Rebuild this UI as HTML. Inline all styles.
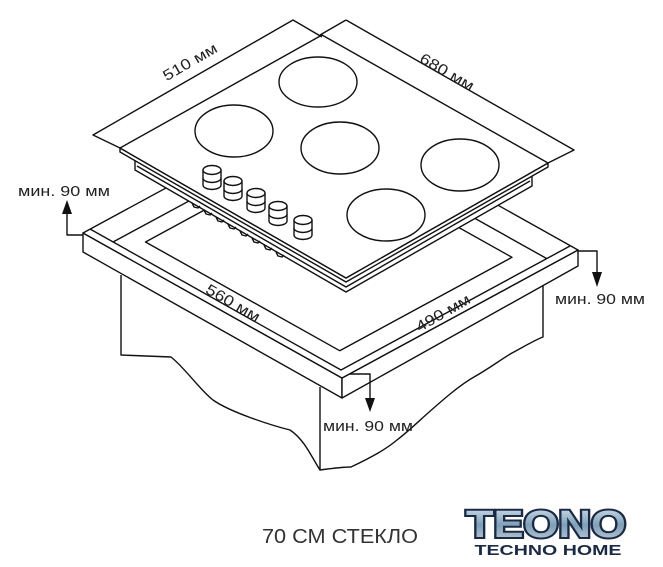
<!DOCTYPE html>
<html><head><meta charset="utf-8"><style>
html,body{margin:0;padding:0;background:#fff;width:663px;height:567px;overflow:hidden}
svg{display:block}
text{font-family:"Liberation Sans",Arial,sans-serif;fill:#222}
</style></head><body>
<svg width="663" height="567" viewBox="0 0 663 567" xmlns="http://www.w3.org/2000/svg">
<g fill="none" stroke="#111" stroke-width="1.4" stroke-linejoin="round">
<!-- cabinet -->
<path d="M121,275 L121,355 L171,357 C185,368 200,390 213,400 C230,412 270,425 290,430 C305,440 312,458 320,470 C335,468 345,467 351,467 C370,458 385,450 397,440 C410,430 420,420 428,413 C445,398 460,385 474,377 C490,368 500,360 512,353 C525,346 535,340 543,337 L543,285"/>
<path d="M320,387 L320,470"/>
<!-- frame -->
<polygon points="83,233 342,378 342,398 83,252" fill="#fff"/>
<polygon points="342,378 578,250 578,266 342,398" fill="#fff"/>
<polygon points="83,233 319,105 578,250 342,378" fill="#fff"/>
<polygon points="145.5,242 339.7,350.7 512,257.3 317.8,148.5"/>
<path d="M90,229 L341,370 L570,246"/>
<path d="M113,242 L302,140"/>
<path d="M334,139.5 L546.6,258.5"/>
<!-- hob -->
<polygon points="135,158 135,170 346,292 532,186 532,172 346,280" fill="#fff"/>
<polygon points="120,148 120,152 346,282 548,167 548,163 346,278" fill="#fff"/>
<polygon points="120,148 322,35 548,163 346,278" fill="#fff"/>
<path d="M137,166 L346,287 L530,181"/>
<path d="M192,203 l2,4 l4,1 l2,-2 M204,210 l2,4 l4,1 l2,-2 M216,217 l2,4 l4,1 l2,-2 M228,224 l2,4 l4,1 l2,-2 M240,231 l2,4 l4,1 l2,-2 M252,238 l2,4 l4,1 l2,-2 M264,245 l2,4 l4,1 l2,-2 M276,252 l2,4 l4,1 l2,-2"/>
<!-- dimension lines top -->
<path d="M120,148 L93,135 L293,20 L322,37 M346,20 L320,35 M346,20 L574,150 L548,163"/>
<!-- burners -->
<ellipse cx="318" cy="82" rx="39" ry="25"/>
<ellipse cx="234" cy="131" rx="39" ry="26"/>
<ellipse cx="340" cy="148" rx="39" ry="26"/>
<ellipse cx="460" cy="165" rx="39" ry="26"/>
<ellipse cx="386" cy="215" rx="39" ry="26"/>
<!-- knobs -->
<g fill="#fff">
<g transform="translate(212,170)"><path d="M-9,0 L-9,15 A9,4.5 0 0 0 9,15 L9,0"/><path d="M-9,8 A9,4.5 0 0 0 9,8"/><ellipse cx="0" cy="0" rx="9" ry="4.5"/></g>
<g transform="translate(233,181)"><path d="M-9,0 L-9,15 A9,4.5 0 0 0 9,15 L9,0"/><path d="M-9,8 A9,4.5 0 0 0 9,8"/><ellipse cx="0" cy="0" rx="9" ry="4.5"/></g>
<g transform="translate(256,193)"><path d="M-9,0 L-9,15 A9,4.5 0 0 0 9,15 L9,0"/><path d="M-9,8 A9,4.5 0 0 0 9,8"/><ellipse cx="0" cy="0" rx="9" ry="4.5"/></g>
<g transform="translate(278,206)"><path d="M-9,0 L-9,15 A9,4.5 0 0 0 9,15 L9,0"/><path d="M-9,8 A9,4.5 0 0 0 9,8"/><ellipse cx="0" cy="0" rx="9" ry="4.5"/></g>
<g transform="translate(303,220)"><path d="M-9,0 L-9,15 A9,4.5 0 0 0 9,15 L9,0"/><path d="M-9,8 A9,4.5 0 0 0 9,8"/><ellipse cx="0" cy="0" rx="9" ry="4.5"/></g>
</g>
<!-- arrows -->
<path d="M83,235 L67,235 L67,212 M578,251 L597,251 L597,275 M350,374 L370,374 L370,400"/>
</g>
<g fill="#111">
<polygon points="62,214 72,214 67,200"/>
<polygon points="592,272 602,272 597,287"/>
<polygon points="365,398 375,398 370,412"/>
</g>
<g font-size="15">
<text x="190" y="67" text-anchor="middle" transform="rotate(-30 190 62)" textLength="60" lengthAdjust="spacingAndGlyphs">510 мм</text>
<text x="447" y="77" text-anchor="middle" transform="rotate(30 447 72)" textLength="60" lengthAdjust="spacingAndGlyphs">680 мм</text>
<text x="233" y="308" text-anchor="middle" transform="rotate(30 233 303)" textLength="60" lengthAdjust="spacingAndGlyphs">560 мм</text>
<text x="443" y="318" text-anchor="middle" transform="rotate(-30 443 313)" textLength="60" lengthAdjust="spacingAndGlyphs">490 мм</text>
<text x="18" y="196" textLength="92" lengthAdjust="spacingAndGlyphs">мин. 90 мм</text>
<text x="555" y="304" textLength="90" lengthAdjust="spacingAndGlyphs">мин. 90 мм</text>
<text x="323" y="431" textLength="90" lengthAdjust="spacingAndGlyphs">мин. 90 мм</text>
</g>
<text x="262" y="543" font-size="20" textLength="156" lengthAdjust="spacingAndGlyphs" style="fill:#333">70 СМ СТЕКЛО</text>
<defs><linearGradient id="lg" x1="0" y1="0" x2="0" y2="1"><stop offset="0" stop-color="#d9e6f0"/><stop offset="0.5" stop-color="#7f9fb8"/><stop offset="1" stop-color="#c9d3dc"/></linearGradient></defs>
<text x="546" y="537" text-anchor="middle" font-size="38" font-weight="900" textLength="160" lengthAdjust="spacingAndGlyphs" style="fill:url(#lg);stroke:#1b2a44;stroke-width:4;paint-order:stroke">TEONO</text>
<text x="548" y="555" text-anchor="middle" font-size="15" font-weight="bold" textLength="147" lengthAdjust="spacingAndGlyphs" style="fill:#1b2a44">TECHNO HOME</text>
</svg>
</body></html>
